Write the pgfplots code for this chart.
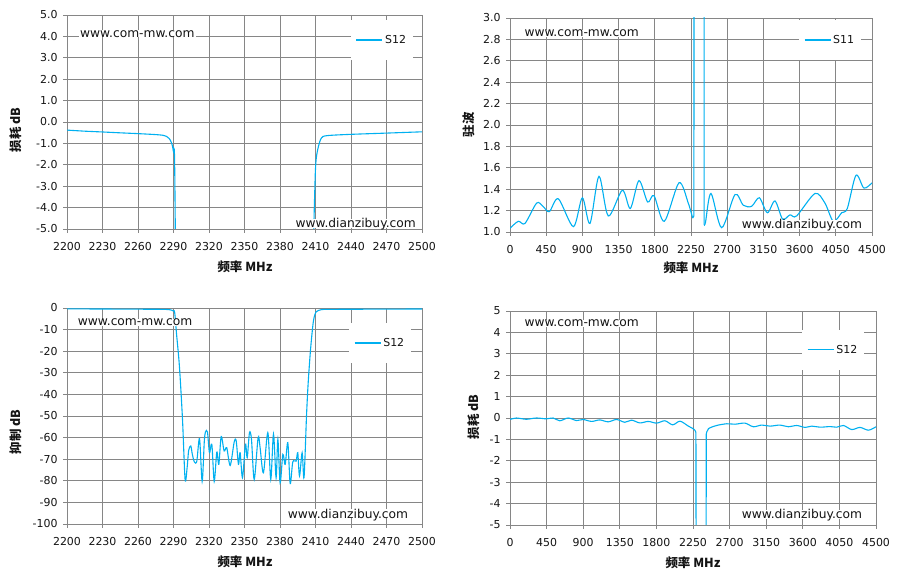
\documentclass[border=0pt]{standalone}
\usepackage{pgfplots}
\usepackage{pgfplotstable}
\pgfplotsset{compat=1.18}
\usepackage{fontspec}
\setmainfont{DejaVu Sans}
\newfontfamily\cjk{Noto Sans CJK SC}
\definecolor{cline}{RGB}{0,176,240}
\definecolor{cgrid}{RGB}{134,134,134}
\definecolor{ctext}{RGB}{20,20,20}

% S12 narrow band (shared by top-left and bottom-left panels)
\pgfplotstableread{
f v
2200 -0.38
2215 -0.43
2231 -0.47
2246 -0.51
2262 -0.55
2275 -0.59
2281 -0.62
2284 -0.67
2286.5 -0.78
2288.5 -1.0
2290 -1.4
2291 -2.07
2292.5 -11.6
2295 -27
2297.6 -51.5
2299.8 -79.4
2301.5 -74
2302.8 -66
2304.6 -63.9
2306 -68
2307.7 -71.3
2309.7 -70.9
2312 -60.5
2314.2 -80.3
2316 -62
2317 -57.4
2318.7 -57.4
2320.4 -67
2322.4 -63.1
2324.4 -80.3
2326.6 -66.7
2328.3 -72.4
2330.3 -59.5
2332.8 -66.2
2335 -64.7
2337.9 -72.9
2341.3 -62
2343 -61.6
2344.9 -72.4
2346.3 -67
2348.3 -78.6
2350.8 -63.1
2352.3 -69.3
2354.2 -57.7
2355.9 -60.8
2358.2 -79.4
2361.5 -60
2363.2 -64.7
2366 -76.3
2369.7 -57.7
2372.2 -79.4
2374.5 -58.4
2376.7 -78.6
2378.2 -60.8
2380.1 -81
2382.4 -67.8
2384.4 -72.4
2386.6 -62.3
2388.6 -81.3
2390.8 -71.3
2393.6 -70.9
2395 -67
2396.5 -77.8
2398.7 -67
2400.3 -78.5
2402.4 -50
2403.8 -34.8
2405.8 -19.3
2408 -7
2409.5 -3
2410.5 -1.77
2412.5 -1.14
2415 -0.75
2419.5 -0.64
2439 -0.58
2470 -0.52
2500 -0.46
}\narrowS

% S11 VSWR wide band
\pgfplotstableread{
f v
0 1.035
103 1.10
186 1.08
331 1.27
410 1.24
489 1.19
601 1.31
788 1.05
899 1.32
994 1.08
1106 1.52
1222 1.15
1396 1.39
1496 1.22
1603 1.48
1711 1.28
1790 1.34
1918 1.10
2101 1.46
2216 1.27
2270 1.13
}\swrA
\pgfplotstableread{
f v
2270 1.13
2286 1.15
2291 8
2411 8
2413 1.07
}\swrB
\pgfplotstableread{
f v
2413 1.07
2430 1.09
2498 1.36
2631 1.04
2797 1.35
2900 1.25
3004 1.24
3099 1.32
3199 1.18
3294 1.29
3389 1.12
3480 1.16
3563 1.15
3791 1.36
3915 1.27
4019 1.10
4123 1.18
4193 1.22
4301 1.53
4400 1.41
4500 1.46
}\swrC

% S12 wide band
\pgfplotstableread{
f v
0 -0.07
78 0.0
201 -0.06
324 0
447 -0.04
530 0
612 -0.13
714 0
817 -0.12
899 -0.07
1002 -0.16
1104 -0.09
1207 -0.18
1310 -0.07
1412 -0.2
1494 -0.1
1597 -0.23
1700 -0.16
1802 -0.24
1905 -0.13
2000 -0.32
2090 -0.15
2193 -0.38
2260 -0.52
2278 -0.6
}\wideA
\pgfplotstableread{
f v
2278 -0.6
2286 -0.68
2290 -12
2410 -12
2413 -0.75
}\wideB
\pgfplotstableread{
f v
2413 -0.75
2440 -0.5
2541 -0.35
2664 -0.27
2766 -0.29
2889 -0.24
2992 -0.41
3094 -0.33
3197 -0.38
3320 -0.33
3423 -0.41
3526 -0.35
3628 -0.44
3710 -0.38
3813 -0.43
3936 -0.40
4018 -0.43
4100 -0.35
4202 -0.54
4304 -0.44
4407 -0.57
4500 -0.41
}\wideC

\pgfplotsset{
  myax/.style={
    scale only axis, anchor=south west,
    grid=major, major grid style={draw=cgrid, line width=0.9bp},
    axis line style={draw=cgrid, line width=0.9bp},
    tick style={draw=cgrid, line width=0.9bp},
    tick align=outside, major tick length=4bp,
    xtick pos=bottom, ytick pos=left,
    tick label style={font=\fontsize{11}{13}\selectfont, text=ctext},
    /pgf/number format/assume math mode=true,
    /pgf/number format/1000 sep={},
    xticklabel style={yshift=-5.5bp},
    yticklabel style={xshift=-2bp},
    legend style={draw=none, fill=white, font=\fontsize{11}{13}\selectfont,
      inner xsep=5bp, inner ysep=13bp, anchor=center, text=ctext},
    legend cell align=left,
    legend image code/.code={\draw[#1, line width=1.3bp] (0bp,0bp) -- (26bp,0bp);},
  },
  sline/.style={color=cline, line width=1.1bp, mark=none},
}
\tikzset{
  wm/.style={inner xsep=1bp, inner ysep=0pt, fill=white, text depth=0pt,
    font=\fontsize{12.3}{14}\selectfont, text=ctext},
  ylab/.style={rotate=90, font={\cjk\bfseries\fontsize{12.5}{14}\selectfont}, text=ctext},
  xlab/.style={font={\cjk\bfseries\fontsize{12.5}{14}\selectfont}, text=ctext},
}

\begin{document}
\begin{tikzpicture}
\useasboundingbox (0bp,0bp) rectangle (899bp,582bp);

% Top-left
\begin{axis}[myax, at={(67bp,353bp)}, width=355bp, height=214bp,
  xmin=2200, xmax=2500, ymin=-5, ymax=5,
  xtick={2200,2230,...,2500}, ytick={-5,-4,...,5},
  yticklabel style={/pgf/number format/.cd, fixed, fixed zerofill, precision=1},
  legend style={at={(0.887,0.883)}}]
\addplot[sline, smooth] table[x=f,y=v] {\narrowS};
\addlegendentry{S12}
\end{axis}

% Top-right
\begin{axis}[myax, at={(510bp,350bp)}, width=362bp, height=214bp,
  xmin=0, xmax=4500, ymin=1, ymax=3,
  xtick={0,450,...,4500}, ytick={1,1.2,1.4,1.6,1.8,2,2.2,2.4,2.6,2.8,3},
  yticklabel style={/pgf/number format/.cd, fixed, fixed zerofill, precision=1},
  legend style={at={(0.884,0.897)}}]
\addplot[sline, smooth] table[x=f,y=v] {\swrA};
\addlegendentry{S11}
\addplot[sline, forget plot] table[x=f,y=v] {\swrB};
\addplot[sline, smooth, forget plot] table[x=f,y=v] {\swrC};
\end{axis}

% Bottom-left
\begin{axis}[myax, at={(67bp,58bp)}, width=355bp, height=216bp,
  xmin=2200, xmax=2500, ymin=-100, ymax=0,
  xtick={2200,2230,...,2500}, ytick={-100,-90,...,0},
  legend style={at={(0.882,0.838)}}]
\addplot[sline, smooth] table[x=f,y=v] {\narrowS};
\addlegendentry{S12}
\end{axis}

% Bottom-right
\begin{axis}[myax, at={(510bp,57bp)}, width=366bp, height=214bp,
  xmin=0, xmax=4500, ymin=-5, ymax=5,
  xtick={0,450,...,4500}, ytick={-5,-4,...,5},
  legend style={at={(0.883,0.819)}}]
\addlegendimage{color=cline, line width=1.3bp}
\addlegendentry{S12}
\addplot[sline, smooth, forget plot] table[x=f,y=v] {\wideA};
\addplot[sline, forget plot] table[x=f,y=v] {\wideB};
\addplot[sline, smooth, forget plot] table[x=f,y=v] {\wideC};
\end{axis}

% watermarks
\node[wm, anchor=base west] at (79bp,544.7bp) {www.com-mw.com};
\node[wm, anchor=base east] at (417bp,354bp) {www.dianzibuy.com};
\node[wm, anchor=base west] at (523.3bp,545.3bp) {www.com-mw.com};
\node[wm, anchor=base east] at (863.3bp,353bp) {www.dianzibuy.com};
\node[wm, anchor=base west] at (76.7bp,256.3bp) {www.com-mw.com};
\node[wm, anchor=base east] at (409.3bp,63.7bp) {www.dianzibuy.com};
\node[wm, anchor=base west] at (523.3bp,255.3bp) {www.com-mw.com};
\node[wm, anchor=base east] at (863.3bp,63bp) {www.dianzibuy.com};

% axis labels
\node[ylab] at (16bp,452bp) {损耗 dB};
\node[ylab] at (469bp,457bp) {驻波};
\node[ylab] at (16bp,150bp) {抑制 dB};
\node[ylab] at (474bp,165bp) {损耗 dB};
\node[xlab] at (245bp,315bp) {频率 MHz};
\node[xlab] at (691bp,314bp) {频率 MHz};
\node[xlab] at (245bp,20bp) {频率 MHz};
\node[xlab] at (693bp,19bp) {频率 MHz};
\end{tikzpicture}
\end{document}
